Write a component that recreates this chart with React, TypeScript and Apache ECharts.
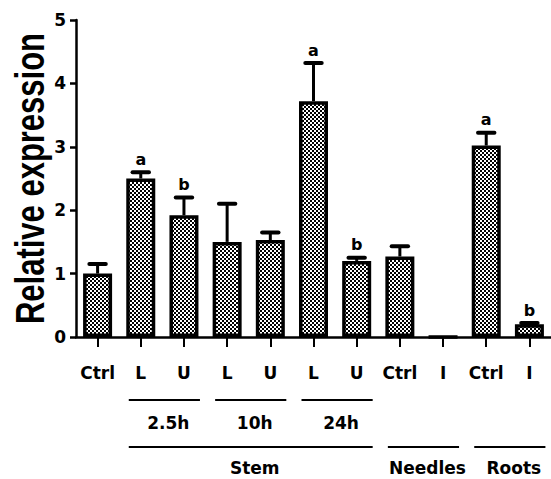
import React, { useEffect, useRef } from "react";
import * as echarts from "echarts";

const categories = ["Ctrl", "L 2.5h", "U 2.5h", "L 10h", "U 10h", "L 24h", "U 24h", "Ctrl Needles", "I Needles", "Ctrl Roots", "I Roots"];
const tickLabels = ["Ctrl", "L", "U", "L", "U", "L", "U", "Ctrl", "I", "Ctrl", "I"];
const means = [1.0, 2.5, 1.92, 1.5, 1.53, 3.72, 1.2, 1.27, 0, 3.02, 0.2];
const errorTops = [1.15, 2.6, 2.2, 2.1, 1.65, 4.32, 1.25, 1.43, 0, 3.22, 0.22];
const letters = ["", "a", "b", "", "", "a", "b", "", "", "a", "b"];
const timeGroups = [
  { label: "2.5h", first: 1, last: 2 },
  { label: "10h", first: 3, last: 4 },
  { label: "24h", first: 5, last: 6 },
];
const tissueGroups = [
  { label: "Stem", first: 1, last: 6 },
  { label: "Needles", first: 7, last: 8 },
  { label: "Roots", first: 9, last: 10 },
];
const yMin = 0;
const yMax = 5;
const yStep = 1;
const yTitle = "Relative expression";

const LABEL_FONT = '"DejaVu Sans"';

function makePattern(): string {
  const c = document.createElement("canvas");
  c.width = 4;
  c.height = 4;
  const ctx = c.getContext("2d")!;
  ctx.fillStyle = "#000";
  ctx.fillRect(0, 0, 4, 4);
  ctx.fillStyle = "#fff";
  ctx.fillRect(0, 0, 2, 2);
  ctx.fillRect(2, 2, 2, 2);
  return c.toDataURL();
}

export default function App() {
  const ref = useRef<HTMLDivElement>(null);
  useEffect(() => {
    if (!ref.current) return;
    const chart = echarts.init(ref.current, undefined, { renderer: "svg" });
    const pattern: any = { image: makePattern(), repeat: "repeat", imageWidth: 4, imageHeight: 4 };
    const errData = categories.map((_, i) => [i, means[i], errorTops[i]]);
    chart.setOption({
      animation: false,
      backgroundColor: "#fff",
      grid: { left: 76, right: 0, top: 20, bottom: 142, containLabel: false },
      xAxis: {
        type: "category",
        data: categories,
        axisLine: { show: true, lineStyle: { color: "#000", width: 2.5 } },
        axisTick: { show: true, alignWithLabel: true, length: 10, lineStyle: { color: "#000", width: 2 } },
        axisLabel: {
          interval: 0,
          margin: 27,
          color: "#000",
          fontFamily: LABEL_FONT,
          fontWeight: "bold",
          fontSize: 17,
          formatter: (_v: string, idx: number) => tickLabels[idx],
        },
        splitLine: { show: false },
      },
      yAxis: {
        type: "value",
        min: yMin,
        max: yMax,
        interval: yStep,
        axisLine: { show: true, lineStyle: { color: "#000", width: 2.5 } },
        axisTick: { show: true, length: 6, lineStyle: { color: "#000", width: 2.5 } },
        axisLabel: { margin: 10, color: "#000", fontFamily: LABEL_FONT, fontWeight: "bold", fontSize: 17 },
        splitLine: { show: false },
      },
      series: [
        {
          type: "bar",
          data: means,
          barWidth: 29,
          itemStyle: { color: pattern, borderColor: "#000", borderWidth: 3.5 },
          z: 2,
        },
        {
          type: "custom",
          data: errData,
          encode: { x: 0, y: 1 },
          z: 3,
          renderItem: (params: any, api: any) => {
            const i = api.value(0);
            const m = api.value(1);
            const e = api.value(2);
            const base = api.coord([i, m]);
            const top = api.coord([i, e]);
            const capHalf = api.size([1, 0])[0] * 0.19;
            const children: any[] = [];
            if (e > m) {
              children.push({
                type: "line",
                shape: { x1: base[0], y1: base[1], x2: top[0], y2: top[1] },
                style: { stroke: "#000", lineWidth: 3 },
              });
              children.push({
                type: "line",
                shape: { x1: top[0] - capHalf, y1: top[1], x2: top[0] + capHalf, y2: top[1] },
                style: { stroke: "#000", lineWidth: 4, lineCap: "round" },
              });
            }
            const letter = letters[params.dataIndex];
            if (letter) {
              children.push({
                type: "text",
                x: top[0],
                y: top[1] - 5,
                style: {
                  text: letter,
                  textAlign: "center",
                  textVerticalAlign: "bottom",
                  font: `bold 16px ${LABEL_FONT}`,
                  fill: "#000",
                },
              });
            }
            return { type: "group", children };
          },
        },
      ],
    });

    const axisY = chart.convertToPixel({ yAxisIndex: 0 }, 0) as number;
    const topY = chart.convertToPixel({ yAxisIndex: 0 }, yMax) as number;
    const px = (i: number) => chart.convertToPixel({ xAxisIndex: 0 }, i) as number;
    const graphics: any[] = [];
    const addGroup = (g: { label: string; first: number; last: number }, lineY: number, textY: number) => {
      const x1 = px(g.first) - 12;
      const x2 = px(g.last) + 16;
      graphics.push({
        type: "line",
        shape: { x1, y1: lineY, x2, y2: lineY },
        style: { stroke: "#000", lineWidth: 2 },
      });
      graphics.push({
        type: "text",
        x: (x1 + x2) / 2 + 4,
        y: textY,
        style: {
          text: g.label,
          textAlign: "center",
          textVerticalAlign: "middle",
          font: `bold 17px ${LABEL_FONT}`,
          fill: "#000",
        },
      });
    };
    timeGroups.forEach((g) => addGroup(g, axisY + 63, axisY + 86));
    tissueGroups.forEach((g) => addGroup(g, axisY + 110, axisY + 131));
    graphics.push({
      type: "text",
      x: 30,
      y: (axisY + topY) / 2,
      rotation: Math.PI / 2,
      scaleY: 1.3,
      style: {
        text: yTitle,
        textAlign: "center",
        textVerticalAlign: "middle",
        font: 'bold 31px "Liberation Sans"',
        fill: "#000",
      },
    });
    chart.setOption({ graphic: graphics });
    return () => chart.dispose();
  }, []);
  return <div ref={ref} style={{ position: "absolute", left: 0, top: 0, width: 551, height: 479 }} />;
}
